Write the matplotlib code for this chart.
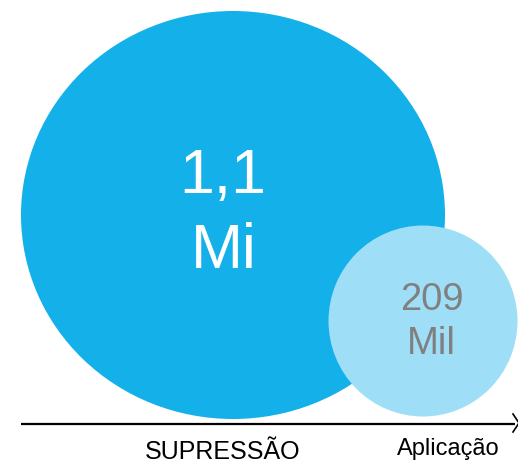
import matplotlib
matplotlib.use("Agg")
import matplotlib.pyplot as plt
from matplotlib.patches import Ellipse

plt.rcParams['font.family'] = ['Liberation Sans', 'DejaVu Sans']

categories = ["SUPRESSÃO", "Aplicação"]
values = [1.1e6, 209e3]
value_top = ["1,1", "209"]
value_unit = ["Mi", "Mil"]

colors = ["#13B0E9", "#9EDEF6"]
text_colors = ["white", "#808080"]
centers = [(233, 216), (423, 322)]
sizes = [(424, 408), (189, 191)]
top_pos = [(223, 193), (432, 310)]
unit_pos = [(223.5, 268), (431, 354)]
value_fs = [45, 27.5]
label_pos = [(222.5, 459), (448, 455)]
label_sizes = [18, 17]

fig = plt.figure(figsize=(5.18, 4.64), dpi=100)
ax = fig.add_axes([0, 0, 1, 1])
ax.set_xlim(0, 518)
ax.set_ylim(464, 0)
ax.axis('off')

for i, v in enumerate(values):
    cx, cy = centers[i]
    w, h = sizes[i]
    ax.add_patch(Ellipse((cx, cy), w, h, facecolor=colors[i], edgecolor='none', zorder=2 + i))
    ax.text(top_pos[i][0], top_pos[i][1], value_top[i], color=text_colors[i], fontsize=value_fs[i],
            ha='center', va='baseline', zorder=5)
    ax.text(unit_pos[i][0], unit_pos[i][1], value_unit[i], color=text_colors[i], fontsize=value_fs[i],
            ha='center', va='baseline', zorder=5)

# baseline axis with arrow
ax.plot([21, 515], [425, 425], color='black', lw=1.6, zorder=6, solid_capstyle='butt')
ax.plot([513, 519, 513], [415, 424, 433], color='black', lw=1.2, zorder=6)

for i, c in enumerate(categories):
    ax.text(label_pos[i][0], label_pos[i][1], c, fontsize=label_sizes[i], color='black',
            ha='center', va='baseline')

fig.savefig("out.png", dpi=100)
